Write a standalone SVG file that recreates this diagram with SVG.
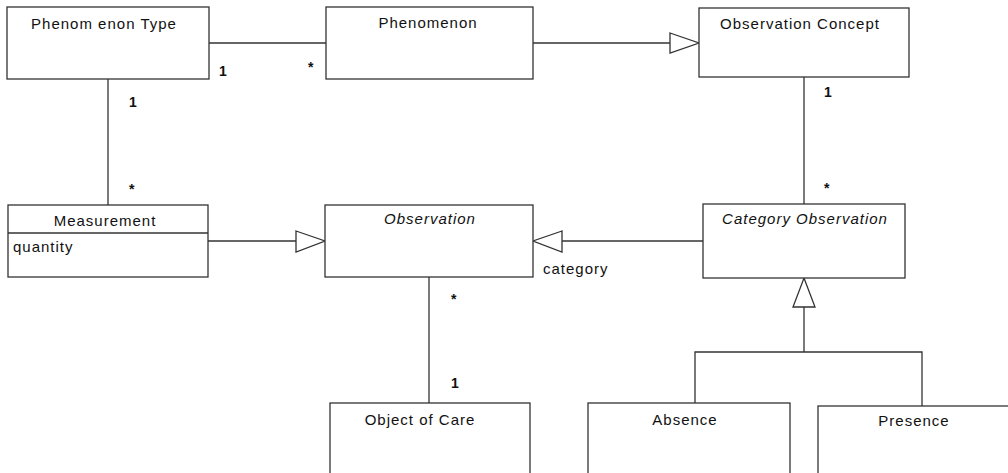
<svg xmlns="http://www.w3.org/2000/svg" width="1008" height="473" viewBox="0 0 1008 473">
<style>
.box{fill:#fff;stroke:#333;stroke-width:1.3}
.ln{fill:none;stroke:#333;stroke-width:1.3}
.tri{fill:#fff;stroke:#333;stroke-width:1.3}
text{font-family:"Liberation Sans",Arial,sans-serif;font-size:15px;fill:#111;letter-spacing:1px}
.t{text-anchor:middle}
.i{font-style:italic}
.m{font-size:14px;font-weight:bold;letter-spacing:0}
</style>
<rect width="1008" height="473" fill="#fff"/>
<g id="connectors">
<line class="ln" x1="209" y1="43" x2="326" y2="43"/>
<line class="ln" x1="533" y1="43" x2="670" y2="43"/>
<polygon class="tri" points="670,33 699,43 670,53"/>
<line class="ln" x1="108" y1="79" x2="108" y2="205"/>
<line class="ln" x1="804" y1="77" x2="804" y2="204"/>
<line class="ln" x1="208" y1="241" x2="296" y2="241"/>
<polygon class="tri" points="296,231 325,241 296,252"/>
<line class="ln" x1="562" y1="241" x2="703" y2="241"/>
<polygon class="tri" points="562,231 533,241 562,252"/>
<line class="ln" x1="429" y1="277" x2="429" y2="403"/>
<polygon class="tri" points="804,278 815,307 793,307"/>
<polyline class="ln" points="804,307 804,352"/>
<polyline class="ln" points="695,403 695,352 922,352 922,406"/>
<text class="m" x="219" y="76">1</text>
<text class="m" x="308" y="72">*</text>
<text class="m" x="129" y="107">1</text>
<text class="m" x="129" y="194">*</text>
<text class="m" x="824" y="97">1</text>
<text class="m" x="824" y="193">*</text>
<text class="m" x="451" y="304">*</text>
<text class="m" x="451" y="388">1</text>
<text x="543" y="274">category</text>
</g>
<g id="phenomenon-type">
<rect class="box" x="7" y="7" width="202" height="72"/>
<text class="t" x="104" y="29">Phenom enon Type</text>
</g>
<g id="phenomenon">
<rect class="box" x="326" y="7" width="207" height="72"/>
<text class="t" x="428" y="28">Phenomenon</text>
</g>
<g id="observation-concept">
<rect class="box" x="699" y="8" width="210" height="69"/>
<text class="t" x="800" y="29">Observation Concept</text>
</g>
<g id="measurement">
<rect class="box" x="8" y="205" width="200" height="72"/>
<line class="ln" x1="8" y1="233" x2="208" y2="233"/>
<text class="t" x="105" y="226">Measurement</text>
<text x="13" y="252">quantity</text>
</g>
<g id="observation">
<rect class="box" x="325" y="205" width="208" height="72"/>
<text class="t i" x="430" y="224">Observation</text>
</g>
<g id="category-observation">
<rect class="box" x="703" y="204" width="202" height="74"/>
<text class="t i" x="805" y="224">Category Observation</text>
</g>
<g id="object-of-care">
<rect class="box" x="330" y="403" width="200" height="80"/>
<text class="t" x="420" y="425">Object of Care</text>
</g>
<g id="absence">
<rect class="box" x="588" y="403" width="202" height="80"/>
<text class="t" x="685" y="425">Absence</text>
</g>
<g id="presence">
<rect class="box" x="818" y="406" width="200" height="80"/>
<text class="t" x="914" y="426">Presence</text>
</g>
</svg>
